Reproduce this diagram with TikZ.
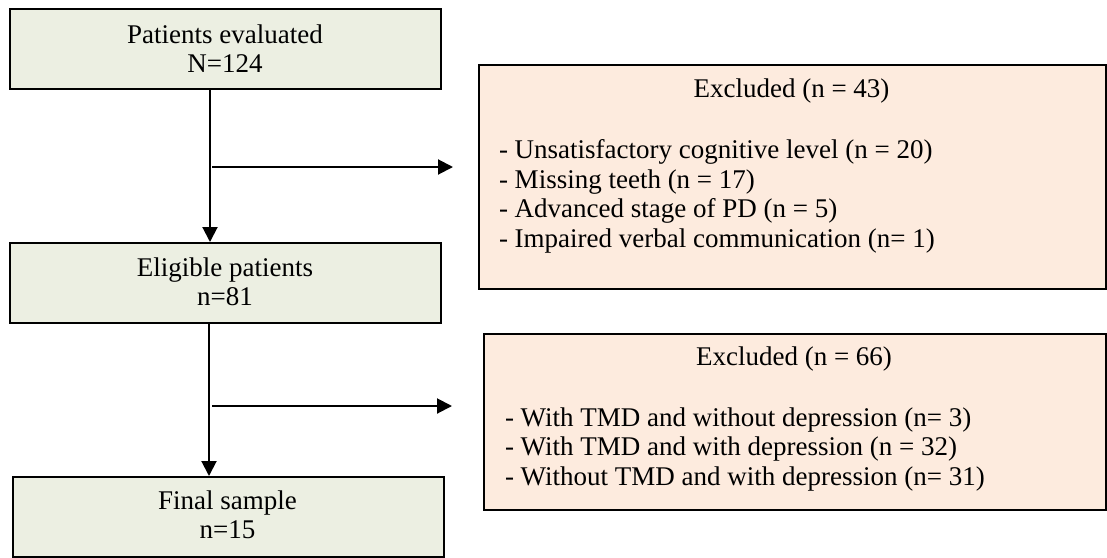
\documentclass[tikz,border=0pt]{standalone}
\usepackage{fontspec}
\setmainfont{Liberation Serif}
\usetikzlibrary{arrows.meta,positioning}
\definecolor{stepgreen}{RGB}{236,239,226}
\definecolor{exclpeach}{RGB}{253,235,222}
\begin{document}
\begin{tikzpicture}
[ x=1pt, y=-1pt, line width=2pt
, point/.style={coordinate}
, stage/.style={rectangle, draw, fill=stepgreen, line width=1.6pt, inner sep=0pt, anchor=north west, minimum width=431pt, minimum height=80pt}
, excl/.style={rectangle, draw, fill=exclpeach, line width=1.6pt, inner sep=0pt, anchor=north west}
, txt/.style={font=\fontsize{27}{29.5}\selectfont, inner sep=0pt}
, flow/.style={-{Triangle[length=15pt,width=15pt]}}
]
\useasboundingbox (0,0) rectangle (1107,557);
% Main column:
\node (evaluated) [stage] at (9,8) {};
\node (evaluatedtext) [txt, align=center, anchor=north] at (225,23.6) {Patients evaluated\\N=124};
\node (eligible) [stage] at (9,242) {};
\node (eligibletext) [txt, align=center, anchor=north] at (225,256.6) {Eligible patients\\n=81};
\node (final) [stage] at (12,476) {};
\node (finaltext) [txt, align=center, anchor=north] at (227.5,489.6) {Final sample\\n=15};
% Exclusion boxes:
\node (excl1) [excl, minimum width=627pt, minimum height=224pt] at (478,64) {};
\node (excl1title) [txt, anchor=base] at (791.5,97) {Excluded (n = 43)};
\node (excl1list) [txt, align=left, anchor=north west] at (498,138.6)
  {- Unsatisfactory cognitive level (n = 20)\\
   - Missing teeth (n = 17)\\
   - Advanced stage of PD (n = 5)\\
   - Impaired verbal communication (n= 1)};
\node (excl2) [excl, minimum width=622pt, minimum height=176pt] at (483,333) {};
\node (excl2title) [txt, anchor=base] at (794,365) {Excluded (n = 66)};
\node (excl2list) [txt, align=left, anchor=north west] at (504,406.6)
  {- With TMD and without depression (n= 3)\\
   - With TMD and with depression (n = 32)\\
   - Without TMD and with depression (n= 31)};
% Branch points:
\node (br1) [point] at (210,167) {};
\node (tip1) [point] at (453,167) {};
\node (br2) [point] at (209,406) {};
\node (tip2) [point] at (452,406) {};
% Connectors:
\draw [flow] (evaluated.south -| br1) -- (eligible.north -| br1);
\draw [flow] (eligible.south -| br2) -- (final.north -| br2);
\draw [flow] ([xshift=2pt]br1) -- (tip1);
\draw [flow] ([xshift=3pt]br2) -- (tip2);
\end{tikzpicture}
\end{document}
